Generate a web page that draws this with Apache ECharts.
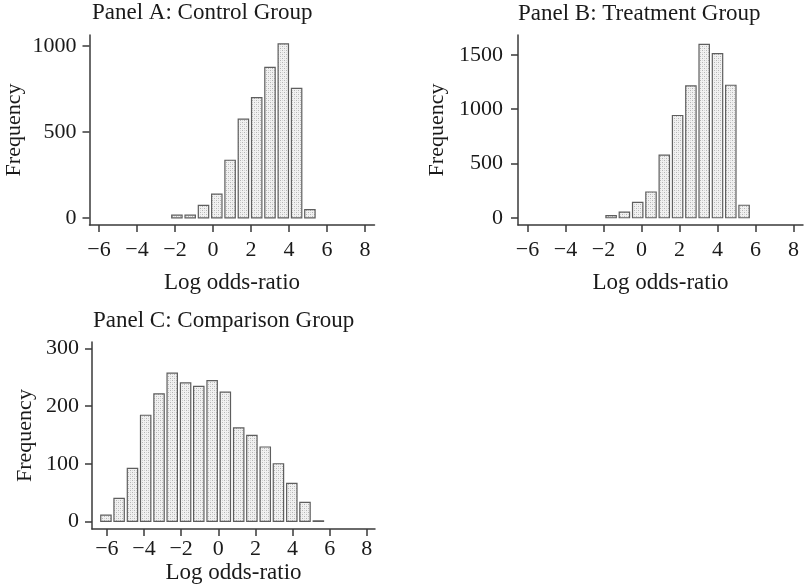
<!DOCTYPE html>
<html>
<head>
<meta charset="utf-8">
<script src="https://cdn.jsdelivr.net/npm/echarts@6/dist/echarts.min.js"></script>
<style>html,body{margin:0;padding:0;background:#fff}#c{width:804px;height:585px}</style>
</head>
<body>
<div id="c"></div>
<script>
// ---- data ----
const titles = ['Panel A: Control Group', 'Panel B: Treatment Group', 'Panel C: Comparison Group'];
const xName = 'Log odds-ratio';
const yName = 'Frequency';
const xTicks = [-6, -4, -2, 0, 2, 4, 6, 8];

const aCenters = [-1.9, -1.2, -0.5, 0.2, 0.9, 1.6, 2.3, 3.0, 3.7, 4.4, 5.1];
const aCounts  = [15, 16, 72, 138, 335, 574, 700, 876, 1012, 753, 48];
const aYTicks  = [0, 500, 1000];

const bCenters = [-1.6, -0.9, -0.2, 0.5, 1.2, 1.9, 2.6, 3.3, 4.0, 4.7, 5.4];
const bCounts  = [20, 52, 142, 237, 577, 942, 1215, 1598, 1512, 1221, 115];
const bYTicks  = [0, 500, 1000, 1500];

const cCenters = [-6.05, -5.34, -4.62, -3.91, -3.19, -2.48, -1.76, -1.05, -0.33, 0.38, 1.10, 1.81, 2.53, 3.24, 3.96, 4.67, 5.39];
const cCounts  = [11, 40, 92, 184, 221, 257, 240, 234, 244, 224, 162, 149, 129, 100, 66, 33, 1];
const cYTicks  = [0, 100, 200, 300];

const binA = 0.70, binB = 0.70, binC = 0.715;

// ---- stipple pattern ----
const pc = document.createElement('canvas');
pc.width = 4; pc.height = 4;
const pctx = pc.getContext('2d');
pctx.fillStyle = '#f1f1f1'; pctx.fillRect(0, 0, 4, 4);
pctx.fillStyle = '#b4b4b4';
pctx.fillRect(0, 0, 1, 1); pctx.fillRect(2, 2, 1, 1);
pctx.fillStyle = '#d6d6d6';
pctx.fillRect(2, 0, 1, 1); pctx.fillRect(0, 2, 1, 1);

const FONT = 'Liberation Serif';
const TXT = '#1a1a1a';
const AX = '#3a3a3a';

const grids = [
  {left: 89.5, top: 35, width: 285, height: 190},
  {left: 518, top: 35, width: 285, height: 190},
  {left: 92, top: 342, width: 283, height: 188}
];
const xRanges = [[-6.5, 8.5], [-6.5, 8.5], [-6.8, 8.44]];
const yRanges = [[-42, 1064], [-67, 1684], [-13.3, 311]];
const yTickSets = [aYTicks, bYTicks, cYTicks];
const centersSets = [aCenters, bCenters, cCenters];
const countsSets = [aCounts, bCounts, cCounts];
const bins = [binA, binB, binC];
const xLabelMargin = [14, 14, 9];
const xNameGap = [46, 46, 31];
const yLabelMargin = [13, 15, 13];
const yNameGap = [64, 70, 56];

const option = {
  animation: false,
  backgroundColor: '#fff',
  title: [
    {text: titles[0], left: 92, top: 1},
    {text: titles[1], left: 518, top: 2},
    {text: titles[2], left: 93, top: 309}
  ].map(t => Object.assign(t, {padding: 0, textStyle: {fontFamily: FONT, fontSize: 23, fontWeight: 'normal', color: TXT}})),
  grid: grids,
  xAxis: grids.map((g, i) => ({
    type: 'value', gridIndex: i, min: xRanges[i][0], max: xRanges[i][1],
    name: xName, nameLocation: 'middle', nameGap: xNameGap[i],
    nameTextStyle: {fontFamily: FONT, fontSize: 23, color: TXT},
    axisLine: {show: true, onZero: false, lineStyle: {color: AX, width: 1.5}},
    axisTick: {show: true, length: 7, customValues: xTicks, lineStyle: {color: AX, width: 1.5}},
    axisLabel: {customValues: xTicks, margin: xLabelMargin[i], fontFamily: FONT, fontSize: 22, color: TXT,
      formatter: v => (v < 0 ? '\u2212' + Math.abs(v) : String(v))},
    splitLine: {show: false}
  })),
  yAxis: grids.map((g, i) => ({
    type: 'value', gridIndex: i, min: yRanges[i][0], max: yRanges[i][1],
    name: yName, nameLocation: 'middle', nameGap: yNameGap[i],
    nameTextStyle: {fontFamily: FONT, fontSize: 22, color: TXT},
    axisLine: {show: true, onZero: false, lineStyle: {color: AX, width: 1.5}},
    axisTick: {show: true, length: 7, customValues: yTickSets[i], lineStyle: {color: AX, width: 1.5}},
    axisLabel: {customValues: yTickSets[i], margin: yLabelMargin[i], fontFamily: FONT, fontSize: 22, color: TXT,
      formatter: v => String(v)},
    splitLine: {show: false}
  })),
  series: grids.map((g, i) => ({
    type: 'custom', xAxisIndex: i, yAxisIndex: i,
    data: centersSets[i].map((c, k) => [c, countsSets[i][k]]),
    renderItem: (params, api) => {
      const x = api.value(0), y = api.value(1);
      const hw = bins[i] * 0.39;
      const p1 = api.coord([x - hw, y]);
      const p2 = api.coord([x + hw, 0]);
      return {
        type: 'rect',
        shape: {x: p1[0], y: p1[1], width: p2[0] - p1[0], height: p2[1] - p1[1]},
        style: {fill: {image: pc, repeat: 'repeat'}, stroke: '#5e5e5e', lineWidth: 1.2}
      };
    }
  }))
};

const chart = echarts.init(document.getElementById('c'), null, {renderer: 'canvas'});
chart.setOption(option);
</script>
</body>
</html>
